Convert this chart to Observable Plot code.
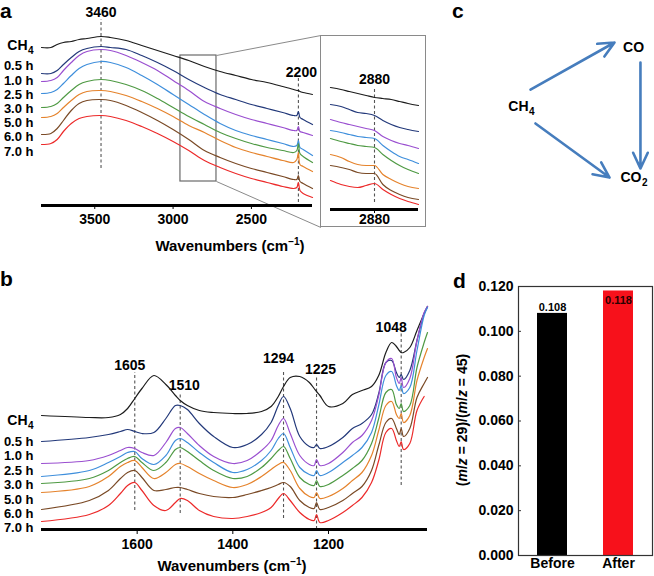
<!DOCTYPE html>
<html><head><meta charset="utf-8">
<script src="https://cdn.jsdelivr.net/npm/d3@7"></script>
<script src="https://cdn.jsdelivr.net/npm/@observablehq/plot@0.6"></script>
<style>
body{margin:0;background:#fff;}
#fig{position:relative;width:654px;height:576px;overflow:hidden;font-family:"Liberation Sans",Arial,sans-serif;font-weight:bold;color:#000;background:#fff;}
.abs{position:absolute;}
.plabel{position:absolute;font-size:21px;line-height:1;}
.title{position:absolute;font-size:15px;white-space:nowrap;transform:translate(-50%,-50%);line-height:1;}
.title sup{font-size:10px;vertical-align:super;line-height:0;}
.ylab{position:absolute;font-size:14px;white-space:nowrap;transform:translate(-50%,-50%) rotate(-90deg);line-height:1;}
</style></head><body><div id="fig"></div>
<script>
// ---------------- DATA ----------------
const seriesNames = ["CH4", "0.5 h", "1.0 h", "2.5 h", "3.0 h", "5.0 h", "6.0 h", "7.0 h"];

// Panel a: high-wavenumber region (absorbance, arbitrary units, stacked)
const wavenumbersA = [3840, 3780, 3740, 3700, 3650, 3600, 3550, 3460, 3400, 3300, 3200, 3100, 3000, 2900, 2800, 2700, 2600, 2500, 2400, 2300, 2230, 2210, 2200, 2190, 2170, 2110];
const aCH4 = [158, 158, 161, 163, 164, 166, 167, 169, 168, 165, 160, 155, 150, 145, 139, 134, 130, 126, 123, 119, 116, 115, 115, 114, 113, 111];
const a05 = [132, 132, 135, 141, 148, 154, 157, 159, 158, 156, 150, 143, 135, 126, 118, 111, 106, 101, 97, 93, 90, 90, 94, 88, 86, 81];
const a10 = [124, 125, 128, 135, 143, 150, 154, 156, 155, 150, 143, 135, 125, 115, 104, 97, 91, 86, 82, 78, 75, 75, 79, 74, 73, 70];
const a25 = [112, 113, 116, 122, 130, 137, 141, 144, 143, 138, 130, 121, 111, 101, 91, 82, 75, 70, 66, 62, 59, 60, 65, 58, 56, 50];
const a30 = [98, 99, 102, 108, 115, 121, 124, 126, 125, 121, 115, 107, 98, 89, 81, 73, 67, 62, 58, 55, 53, 55, 62, 52, 49, 43];
const a50 = [88, 89, 92, 98, 105, 111, 114, 115, 114, 110, 104, 97, 89, 80, 73, 65, 58, 53, 49, 45, 43, 46, 53, 41, 39, 34];
const a60 = [71, 72, 77, 85, 95, 102, 105, 106, 105, 100, 93, 85, 76, 66, 55, 48, 42, 37, 33, 29, 26, 26, 30, 24, 22, 17];
const a70 = [61, 62, 66, 74, 82, 87, 89, 90, 89, 85, 79, 72, 64, 55, 45, 38, 32, 27, 23, 19, 17, 18, 23, 15, 12, 8];
const ticksA = [3500, 3000, 2500];
const peaksA = [3460, 2200];

// Panel a inset (zoom around 2880)
const wavenumbersInset = [2985, 2960, 2940, 2920, 2900, 2880, 2860, 2840, 2820, 2800, 2775];
const iCH4 = [122, 120, 118, 116, 114, 112, 111, 110, 108, 106, 104];
const i05 = [105, 103, 100, 97, 96, 94, 89, 85, 82, 80, 78];
const i10 = [90, 87, 85, 83, 81, 79, 73, 69, 66, 64, 61];
const i25 = [79, 77, 75, 73, 72, 71, 64, 58, 53, 50, 46];
const i30 = [71, 68, 66, 64, 63, 62, 55, 49, 44, 40, 36];
const i50 = [55, 52, 48, 45, 44, 44, 35, 30, 26, 23, 21];
const i60 = [44, 42, 40, 37, 36, 36, 25, 19, 15, 12, 10];
const i70 = [29, 25, 23, 22, 24, 26, 20, 15, 11, 8, 5];
const peaksInset = [2880];

// Panel b: fingerprint region
const wavenumbersB = [1800, 1700, 1660, 1635, 1620, 1605, 1590, 1565, 1540, 1520, 1510, 1495, 1470, 1440, 1400, 1370, 1340, 1320, 1305, 1294, 1280, 1260, 1240, 1230, 1225, 1218, 1200, 1170, 1150, 1130, 1110, 1095, 1080, 1068, 1058, 1052, 1048, 1043, 1030, 1015, 1000, 993];
const bCH4 = [114, 112, 112, 115, 121, 131, 141, 154, 145, 134, 129, 124, 119, 117, 116, 116, 118, 123, 133, 143, 152, 153, 147, 141, 138, 134, 123, 126, 135, 139, 143, 154, 177, 187, 183, 179, 177, 177, 182, 199, 216, 223];
const b05 = [88, 92, 95, 98, 100, 98, 96, 97, 111, 124, 124, 120, 106, 93, 82, 85, 95, 107, 124, 133, 121, 93, 83, 82, 85, 81, 83, 92, 101, 106, 115, 136, 167, 169, 157, 152, 155, 150, 159, 189, 216, 223];
const b10 = [66, 69, 74, 79, 82, 81, 77, 74, 87, 101, 102, 96, 84, 73, 66, 69, 79, 89, 104, 111, 96, 74, 65, 64, 70, 64, 66, 77, 87, 94, 109, 134, 167, 171, 152, 146, 152, 142, 151, 189, 217, 223];
const b25 = [53, 59, 67, 73, 77, 78, 71, 65, 74, 89, 91, 87, 77, 67, 57, 60, 69, 79, 91, 96, 82, 62, 55, 54, 59, 54, 57, 67, 74, 82, 97, 124, 154, 158, 144, 139, 144, 136, 142, 179, 214, 222];
const b30 = [46, 51, 59, 67, 71, 73, 67, 59, 67, 80, 82, 78, 69, 59, 51, 53, 62, 71, 79, 83, 71, 52, 45, 44, 49, 43, 45, 54, 61, 69, 86, 111, 137, 140, 125, 121, 126, 118, 124, 162, 187, 197];
const b50 = [37, 43, 53, 63, 67, 69, 62, 51, 57, 65, 66, 63, 56, 49, 42, 45, 53, 60, 65, 67, 59, 41, 33, 32, 37, 31, 33, 41, 49, 57, 74, 99, 124, 128, 115, 111, 116, 107, 114, 149, 172, 181];
const b60 = [20, 29, 39, 51, 57, 59, 52, 39, 40, 42, 42, 40, 36, 33, 32, 35, 39, 42, 45, 47, 43, 29, 22, 21, 27, 20, 22, 29, 36, 43, 59, 84, 107, 111, 101, 95, 101, 93, 101, 132, 146, 152];
const b70 = [8, 15, 24, 36, 44, 47, 39, 24, 19, 27, 31, 29, 19, 13, 11, 13, 17, 22, 31, 36, 29, 17, 10, 9, 15, 7, 9, 17, 24, 32, 47, 69, 97, 101, 89, 83, 88, 80, 86, 119, 133, null];
const ticksB = [1600, 1400, 1200];
const peaksB = [1605, 1510, 1294, 1225, 1048];

// Panel c: reaction scheme
const species = ["CH4", "CO", "CO2"];
const reactions = [["CH4", "CO"], ["CH4", "CO2"], ["CO", "CO2"]];

// Panel d: ratio bars
const ratioCategories = ["Before", "After"];
const ratioValues = [0.108, 0.118];
const ticksD = [0, 0.02, 0.04, 0.06, 0.08, 0.1, 0.12];

// ---------------- STYLE / LAYOUT ----------------
const seriesColors = ["#1c1c1c", "#23397a", "#9a4fd0", "#3f8fdc", "#4f9a44", "#e5832c", "#7a4a26", "#ec2a2a"];
const barColors = ["#000000", "#f7111b"];
const arrowColor = "#467dbd";
const dashStyle = {stroke: "#555", strokeWidth: 1.1, strokeDasharray: "3,2.5"};
const svgStyle = "background:transparent;overflow:visible;max-width:none;font-family:'Liberation Sans',Arial,sans-serif;font-weight:bold;font-size:14px;color:#000;";
const labelSize = 13;
const labelYA = [160, 140, 125, 111, 97, 83, 69, 54];
const labelYB = [109, 88, 74, 59, 45, 30, 16, 2];
const dashA = {3460: [37, 186, 193, 0], 2200: [3, 127, 133, 3]};
const dashInset = {2880: [7, 122, 130, 0]};
const dashB = {1605: [19, 157, 164, -5], 1510: [16, 137, 144, 4], 1294: [11, 157, 171, -5], 1225: [0, 152, 160, 4], 1048: [44, 196, 202, -10]};
const zoomBox = {w1: 2953, w2: 2723, v1: 24, v2: 150};
const insetCorner = {w: 2056, top: 170, bottom: -22};
const nodePos = {CH4: [1.87, 5.25], CO: [8.87, 8.94], CO2: [9.4, 0.81]};
const edgeLayout = [[2.0, 6.31, 7.6, 9.25], [2.33, 4.19, 7.27, 0.81], [9.33, 8.0, 9.33, 1.375]];

// ---------------- HELPERS ----------------
const fig = document.getElementById("fig");
function place(el, left, top, w, h) {
  const d = document.createElement("div");
  d.className = "abs";
  d.style.left = left + "px"; d.style.top = top + "px";
  d.style.width = w + "px"; d.style.height = h + "px";
  d.appendChild(el); fig.appendChild(d); return d;
}
function html(cls, left, top, inner) {
  const d = document.createElement("div");
  d.className = cls; d.style.left = left + "px"; d.style.top = top + "px";
  d.innerHTML = inner; fig.appendChild(d); return d;
}
function splitSub(s) { const m = s.match(/^(.*?[A-Za-z])(\d+)$/); return m ? [m[1], m[2]] : [s, ""]; }
function rows(ws, arrays) {
  return arrays.flatMap((vals, i) => vals.map((v, j) => ({w: ws[j], v, s: seriesNames[i]})));
}
function seriesLabelMarks(ys) {
  const lab = seriesNames.map((n, i) => ({n, y: ys[i], base: splitSub(n)[0], sub: splitSub(n)[1]}));
  return [
    Plot.text(lab.filter(d => !d.sub), {frameAnchor: "left", y: "y", text: "base", textAnchor: "end", dx: -8, fontSize: labelSize, fontWeight: "bold"}),
    Plot.text(lab.filter(d => d.sub), {frameAnchor: "left", y: "y", text: "base", textAnchor: "end", dx: -14, fontSize: labelSize + 1, fontWeight: "bold"}),
    Plot.text(lab.filter(d => d.sub), {frameAnchor: "left", y: "y", text: "sub", textAnchor: "end", dx: -8, dy: 5, fontSize: 10, fontWeight: "bold"})
  ];
}
function peakLabelMarks(peaks, layout) {
  return peaks.map(p => Plot.text([p], {x: d => d, y: d => layout[d][2], dx: layout[p][3], text: d => String(d), fontSize: 14, fontWeight: "bold"}));
}
const colorScale = {domain: seriesNames, range: seriesColors};

// ---------------- PANEL A ----------------
const rowsA = rows(wavenumbersA, [aCH4, a05, a10, a25, a30, a50, a60, a70]);
const plotA = Plot.plot({
  width: 330, height: 260, marginLeft: 41, marginRight: 18, marginTop: 0, marginBottom: 55,
  x: {domain: [3840, 2110]},
  y: {domain: [0, 205], axis: null},
  color: colorScale,
  style: svgStyle,
  marks: [
    Plot.ruleX(peaksA, {x: d => d, y1: d => dashA[d][0], y2: d => dashA[d][1], ...dashStyle}),
    ...peakLabelMarks(peaksA, dashA),
    Plot.rect([zoomBox], {x1: "w1", x2: "w2", y1: "v1", y2: "v2", fill: "none", stroke: "#6a6a6a", strokeWidth: 1.2}),
    Plot.link([zoomBox], {x1: "w2", y1: "v2", x2: () => insetCorner.w, y2: () => insetCorner.top, stroke: "#8a8a8a", strokeWidth: 1}),
    Plot.link([zoomBox], {x1: "w2", y1: "v1", x2: () => insetCorner.w, y2: () => insetCorner.bottom, stroke: "#8a8a8a", strokeWidth: 1}),
    Plot.line(rowsA, {x: "w", y: "v", z: "s", stroke: "s", curve: "catmull-rom", strokeWidth: 1.2}),
    Plot.ruleY([0], {strokeWidth: 2.8, stroke: "#000"}),
    Plot.axisX({ticks: ticksA, tickFormat: d3.format("d"), tickSize: 4, tickPadding: 5, fontSize: 14, fontWeight: "bold", label: null}),
    ...seriesLabelMarks(labelYA)
  ]
});
place(plotA, 0, 0, 330, 260);

// ---------------- INSET ----------------
const rowsI = rows(wavenumbersInset, [iCH4, i05, i10, i25, i30, i50, i60, i70]);
const plotI = Plot.plot({
  width: 106, height: 192, marginLeft: 10, marginRight: 8, marginTop: 0, marginBottom: 18,
  x: {domain: [2985, 2775]},
  y: {domain: [0, 174], axis: null},
  color: colorScale,
  style: svgStyle + "outline:1.5px solid #8a8a8a;outline-offset:-1px;",
  marks: [
    Plot.ruleX(peaksInset, {x: d => d, y1: d => dashInset[d][0], y2: d => dashInset[d][1], ...dashStyle}),
    ...peakLabelMarks(peaksInset, dashInset),
    Plot.line(rowsI, {x: "w", y: "v", z: "s", stroke: "s", curve: "monotone-x", strokeWidth: 1.2}),
    Plot.ruleY([0], {strokeWidth: 2.8, stroke: "#000"}),
    Plot.axisX({ticks: peaksInset, tickFormat: d3.format("d"), tickSize: 4, tickPadding: 1, fontSize: 14, fontWeight: "bold", label: null})
  ]
});
place(plotI, 320, 35, 106, 192);

// ---------------- PANEL B ----------------
const rowsB = rows(wavenumbersB, [bCH4, b05, b10, b25, b30, b50, b60, b70]);
const plotB = Plot.plot({
  width: 440, height: 290, marginLeft: 41, marginRight: 13, marginTop: 20, marginBottom: 41,
  x: {domain: [1800, 993]},
  y: {domain: [0, 229], axis: null},
  color: colorScale,
  style: svgStyle,
  marks: [
    Plot.ruleX(peaksB, {x: d => d, y1: d => dashB[d][0], y2: d => dashB[d][1], ...dashStyle}),
    ...peakLabelMarks(peaksB, dashB),
    Plot.line(rowsB, {x: "w", y: "v", z: "s", stroke: "s", curve: "catmull-rom", strokeWidth: 1.2}),
    Plot.ruleY([0], {strokeWidth: 2.8, stroke: "#000"}),
    Plot.axisX({ticks: ticksB, tickFormat: d3.format("d"), tickSize: 5, tickPadding: 5, fontSize: 14, fontWeight: "bold", label: null}),
    ...seriesLabelMarks(labelYB)
  ]
});
place(plotB, 0, 280, 440, 290);

// ---------------- PANEL C ----------------
const nodes = species.map(s => ({s, x: nodePos[s][0], y: nodePos[s][1], base: splitSub(s)[0], sub: splitSub(s)[1]}));
const edges = reactions.map((r, i) => ({from: r[0], to: r[1], x1: edgeLayout[i][0], y1: edgeLayout[i][1], x2: edgeLayout[i][2], y2: edgeLayout[i][3]}));
const plotC = Plot.plot({
  width: 194, height: 230, marginLeft: 40, marginRight: 4, marginTop: 30, marginBottom: 40,
  x: {domain: [0, 10], axis: null},
  y: {domain: [0, 10], axis: null},
  style: svgStyle,
  marks: [
    Plot.arrow(edges, {x1: "x1", y1: "y1", x2: "x2", y2: "y2", stroke: arrowColor, strokeWidth: 2.6, headLength: 10, headAngle: 50}),
    Plot.text(nodes.filter(d => !d.sub), {x: "x", y: "y", text: "base", fontSize: 14, fontWeight: "bold"}),
    Plot.text(nodes.filter(d => d.sub), {x: "x", y: "y", text: "base", textAnchor: "end", fontSize: 14, fontWeight: "bold"}),
    Plot.text(nodes.filter(d => d.sub), {x: "x", y: "y", text: "sub", textAnchor: "start", dx: 0.5, dy: 5, fontSize: 10, fontWeight: "bold"})
  ]
});
place(plotC, 460, 0, 194, 230);

// ---------------- PANEL D ----------------
const ratioRows = ratioCategories.map((c, i) => ({c, v: ratioValues[i]}));
const fmt3 = d3.format(".3f");
const plotD = Plot.plot({
  width: 214, height: 306, marginLeft: 78, marginRight: 2, marginTop: 16, marginBottom: 21,
  x: {type: "band", domain: ratioCategories, paddingInner: 0.55, paddingOuter: 0.28, axis: null},
  y: {domain: [0, 0.12], axis: null},
  color: {domain: ratioCategories, range: barColors},
  style: svgStyle,
  marks: [
    Plot.barY(ratioRows, {x: "c", y: "v", fill: "c"}),
    Plot.frame({stroke: "#333", strokeWidth: 1.2}),
    Plot.tickY(ticksD, {y: d => d, insetRight: 131, stroke: "#333"}),
    Plot.axisY({ticks: ticksD, tickFormat: fmt3, tickSize: 0, tickPadding: 5, fontSize: 14, fontWeight: "bold", label: null}),
    Plot.axisX({tickSize: 0, tickPadding: 3, fontSize: 14, fontWeight: "bold", label: null}),
    Plot.text(ratioRows.filter(d => d.v < 0.114), {x: "c", y: "v", text: d => fmt3(d.v), dy: -6, fontSize: 11, fontWeight: "bold"}),
    Plot.text(ratioRows.filter(d => d.v >= 0.114), {x: "c", y: "v", text: d => fmt3(d.v), dy: 9, fontSize: 11, fontWeight: "bold", fill: "#2a0000"})
  ]
});
place(plotD, 440, 270, 214, 306);

// ---------------- HTML TEXT ----------------
html("plabel", 0, 0, "a");
html("plabel", 0, 268, "b");
html("plabel", 452, 0, "c");
html("plabel", 453, 270, "d");
html("title", 230, 245, "Wavenumbers (cm<sup>−1</sup>)");
html("title", 232, 565, "Wavenumbers (cm<sup>−1</sup>)");
html("ylab", 462, 420, "(<i>m</i>/<i>z</i> = 29)/(<i>m</i>/<i>z</i> = 45)");
</script>
</body></html>
